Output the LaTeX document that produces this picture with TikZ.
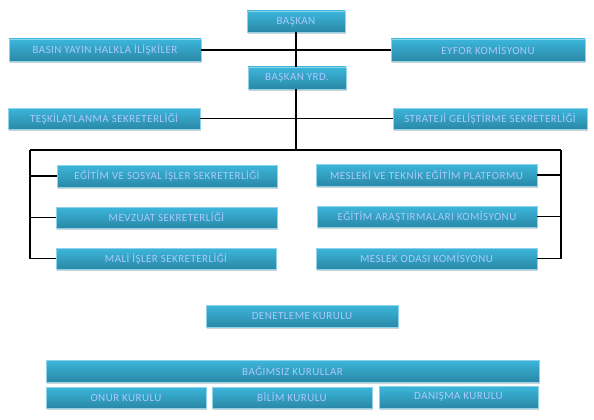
\documentclass[tikz,border=0pt]{standalone}
\usepackage{fontspec}
\setmainfont[LetterSpace=4]{Carlito}
\usetikzlibrary{shadows}
\definecolor{boxtop}{HTML}{3CB6DB}
\definecolor{boxbot}{HTML}{2A88A6}
\definecolor{boxedge}{HTML}{8FD3EA}
\definecolor{txt}{HTML}{A9C9FF}
\tikzset{
  orgbox/.style={rectangle, inner sep=0pt, top color=boxtop, bottom color=boxbot,
    draw=boxedge, line width=0.4pt,
    drop shadow={opacity=0.35, shadow xshift=1pt, shadow yshift=-1.6pt},
    font=\fontsize{11}{12}\selectfont, text=txt},
  link/.style={draw=black, line width=1.6pt}
}
\begin{document}
\begin{tikzpicture}[x=1pt,y=-1pt]
\useasboundingbox (0,0) rectangle (594,420);
\fill[white] (0,0) rectangle (594,420);
\node[orgbox, minimum width=98, minimum height=21] (baskan) at (296,21.5) {BAŞKAN};
\node[orgbox, minimum width=98, minimum height=22] (yrd) at (297,78) {BAŞKAN YRD.};
\node[orgbox, minimum width=192, minimum height=22] (basin) at (105,50) {BASIN YAYIN HALKLA İLİŞKİLER};
\node[orgbox, minimum width=194, minimum height=22] (eyfor) at (488,50) {EYFOR KOMİSYONU};
\node[orgbox, minimum width=192, minimum height=21] (teskilat) at (104,118.5) {TEŞKİLATLANMA SEKRETERLİĞİ};
\node[orgbox, minimum width=194, minimum height=21] (strateji) at (490,118.5) {STRATEJİ GELİŞTİRME SEKRETERLİĞİ};
\node[orgbox, minimum width=220, minimum height=22] (egitim) at (167,176) {EĞİTİM VE SOSYAL İŞLER SEKRETERLİĞİ};
\node[orgbox, minimum width=221, minimum height=21] (mevzuat) at (166.5,217.5) {MEVZUAT SEKRETERLİĞİ};
\node[orgbox, minimum width=220, minimum height=21] (mali) at (166,258.5) {MALİ İŞLER SEKRETERLİĞİ};
\node[orgbox, minimum width=221, minimum height=22] (mesleki) at (426.5,175) {MESLEKİ VE TEKNİK EĞİTİM PLATFORMU};
\node[orgbox, minimum width=220, minimum height=21] (arastirma) at (427,216.5) {EĞİTİM ARAŞTIRMALARI KOMİSYONU};
\node[orgbox, minimum width=221, minimum height=21] (oda) at (426.5,258.5) {MESLEK ODASI KOMİSYONU};
\node[orgbox, minimum width=192, minimum height=22] (denetleme) at (302,316) {DENETLEME KURULU};
\node[orgbox, minimum width=493, minimum height=22] (bagimsiz) at (292.5,371) {BAĞIMSIZ KURULLAR};
\node[orgbox, minimum width=160, minimum height=21] (onur) at (126,397.5) {ONUR KURULU};
\node[orgbox, minimum width=160, minimum height=21] (bilim) at (292,397.5) {BİLİM KURULU};
\node[orgbox, minimum width=159, minimum height=22] (danisma) at (458.5,397) {DANIŞMA KURULU};
\coordinate (bus) at (296,150);
\coordinate (ltop) at (30,150);
\coordinate (rtop) at (561,150);
\draw[link] (baskan.south) -- (baskan.south |- yrd.north);
\draw[link] (basin.east) -- (eyfor.west);
\draw[link] (yrd.south -| baskan.south) -- (bus);
\draw[link] (teskilat.east) -- (strateji.west);
\draw[link] (ltop) -- (rtop);
\draw[link] (ltop) |- (egitim.west);
\draw[link] (ltop) |- (mevzuat.west);
\draw[link] (ltop) |- (mali.west);
\draw[link] (rtop) |- (mesleki.east);
\draw[link] (rtop) |- (arastirma.east);
\draw[link] (rtop) |- (oda.east);
\end{tikzpicture}
\end{document}
